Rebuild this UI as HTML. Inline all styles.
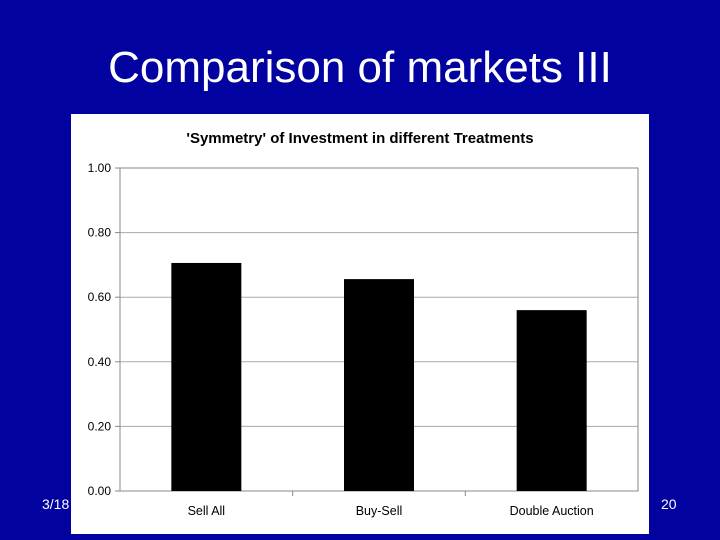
<!DOCTYPE html>
<html><head><meta charset="utf-8"><style>
body{margin:0;width:720px;height:540px;background:#0202a0;overflow:hidden;font-family:"Liberation Sans",sans-serif;position:relative}
.t{position:absolute;color:#fff}
</style></head><body>
<div class="t" style="left:0;width:720px;top:42px;text-align:center;font-size:44px;line-height:52px;padding-left:0">Comparison of markets III</div>
<div class="t" style="left:42px;top:496px;font-size:14px">3/18</div>
<div class="t" style="left:661px;top:496px;font-size:14px">20</div>
<svg id="c" width="720" height="540" style="position:absolute;left:0;top:0"></svg>
<script>
const categories=["Sell All","Buy-Sell","Double Auction"];
const values=[0.706,0.656,0.56];
const ticks=[0,0.2,0.4,0.6,0.8,1.0];
const NS="http://www.w3.org/2000/svg",svg=document.getElementById('c');
function mk(t,a,txt){const e=document.createElementNS(NS,t);for(const k in a)e.setAttribute(k,a[k]);if(txt!==undefined)e.textContent=txt;svg.appendChild(e);return e;}
const L=120,R=638,T=168,B=491;
const y=v=>B-(B-T)*v;
const bw=(R-L)/categories.length;
let e=mk('rect',{x:71,y:114,width:578,height:420,fill:'#fff'});

e=mk('text',{x:360,y:143,'text-anchor':'middle','font-size':15,'font-weight':'bold','font-family':'Liberation Sans'},"'Symmetry' of Investment in different Treatments");

ticks.forEach(v=>{
 e=mk('line',{x1:L,x2:R,y1:y(v),y2:y(v),stroke:'#aaa','stroke-width':1});
 
 e=mk('line',{x1:L-5,x2:L,y1:y(v),y2:y(v),stroke:'#888'});
 
 e=mk('text',{x:111,y:y(v)+4,'text-anchor':'end','font-size':12,'font-family':'Liberation Sans'},v.toFixed(2));
 
});
e=mk('rect',{x:L,y:T,width:R-L,height:B-T,fill:'none',stroke:'#888'});

categories.forEach((c,i)=>{
 const cx=L+bw*(i+0.5);
 e=mk('rect',{x:cx-35,y:y(values[i]),width:70,height:B-y(values[i]),fill:'#000'});
 
 e=mk('text',{x:cx,y:515,'text-anchor':'middle','font-size':12.5,'font-family':'Liberation Sans'},c);
 
 if(i>0){e=mk('line',{x1:L+bw*i,x2:L+bw*i,y1:B,y2:B+5,stroke:'#888'});
 }
});
</script>
</body></html>
